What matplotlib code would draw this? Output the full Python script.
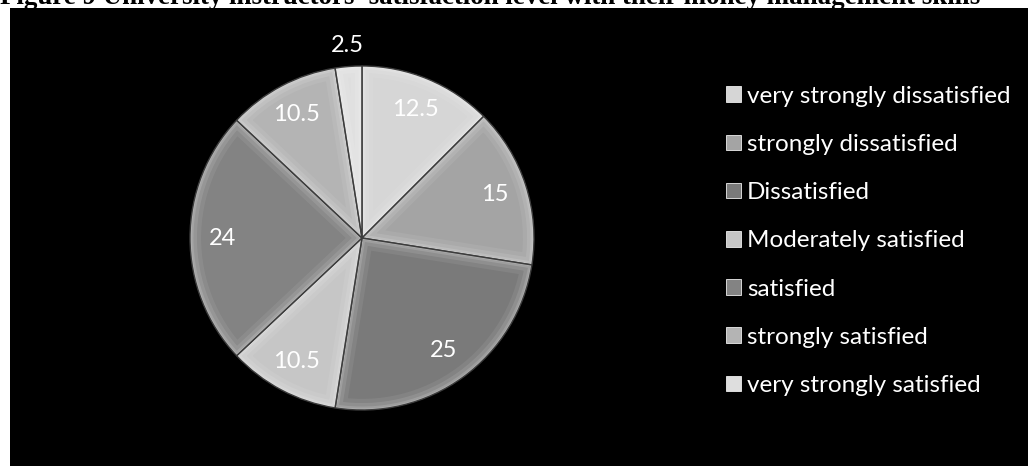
import numpy as np
import matplotlib
matplotlib.use('Agg')
import matplotlib.pyplot as plt
from matplotlib.patches import Rectangle, Patch, PathPatch

# satisfaction with money management skills (percent)
labels = ['very strongly dissatisfied', 'strongly dissatisfied', 'Dissatisfied',
          'Moderately satisfied', 'satisfied', 'strongly satisfied',
          'very strongly satisfied']
values = [12.5, 15, 25, 10.5, 24, 10.5, 2.5]
value_text = ['12.5', '15', '25', '10.5', '24', '10.5', '2.5']
colors = ['#d6d6d6', '#a4a4a4', '#7a7a7a', '#c6c6c6', '#838383', '#b4b4b4', '#dedede']

W, H = 1028, 466
fig = plt.figure(figsize=(W / 100, H / 100), dpi=100)
fig.patch.set_facecolor('white')

# black chart area (behind the axes)
fig.patches.append(Rectangle((10 / W, 0), 1 - 10 / W, (H - 8) / H,
                             transform=fig.transFigure, facecolor='black',
                             edgecolor='none', zorder=-5))

fig.text(0.0, 1 - 4 / H, "Figure 9 University instructors' satisfaction level with their money management skills",
         family='Liberation Serif', weight='bold', fontsize=19.4, ha='left', va='baseline',
         color='black', zorder=-6)

ax = fig.add_axes([0, 0, 1, 1])
ax.patch.set_alpha(0)

cx, cy, r = 362, H - 238, 172
wedges, _ = ax.pie(values, colors=colors, startangle=90, counterclock=False,
                   center=(cx, cy), radius=r, frame=True,
                   wedgeprops=dict(edgecolor='none', linewidth=0))
ax.set_xlim(0, W)
ax.set_ylim(0, H)
ax.axis('off')

# soft bevel: light rim clipped inside each wedge, dark seam on the edge
for w in wedges:
    for lw, a in [(16, 0.07), (10, 0.10), (5, 0.14), (2, 0.18)]:
        rim = PathPatch(w.get_path(), transform=w.get_transform(),
                        fill=False, edgecolor='white', linewidth=lw, alpha=a)
        ax.add_patch(rim)
        rim.set_clip_path(w)
    edge = PathPatch(w.get_path(), transform=w.get_transform(),
                     fill=False, edgecolor='#3c3c3c', linewidth=1.0)
    ax.add_patch(edge)

# value labels
cum = np.cumsum([0] + values[:-1])
for v, c, txt in zip(values, cum, value_text):
    ang = np.deg2rad(90 - (c + v / 2) / sum(values) * 360)
    d = 1.12 if v < 5 else 0.81
    ax.text(cx + d * r * np.cos(ang), cy + d * r * np.sin(ang), txt,
            color='white', fontsize=17, family='Lato', ha='center', va='center')

handles = [Patch(facecolor=c, edgecolor='#eeeeee', linewidth=0.6) for c in colors]
leg = ax.legend(handles, labels, loc='upper left', bbox_to_anchor=(716 / W, 1 - 76 / H),
                bbox_transform=fig.transFigure, frameon=False, fontsize=17.5,
                labelcolor='white', handlelength=0.62, handleheight=0.62,
                handletextpad=0.25, labelspacing=1.12, borderaxespad=0)
for t in leg.get_texts():
    t.set_family('Lato')

fig.savefig('out.png', dpi=100, facecolor='white')
